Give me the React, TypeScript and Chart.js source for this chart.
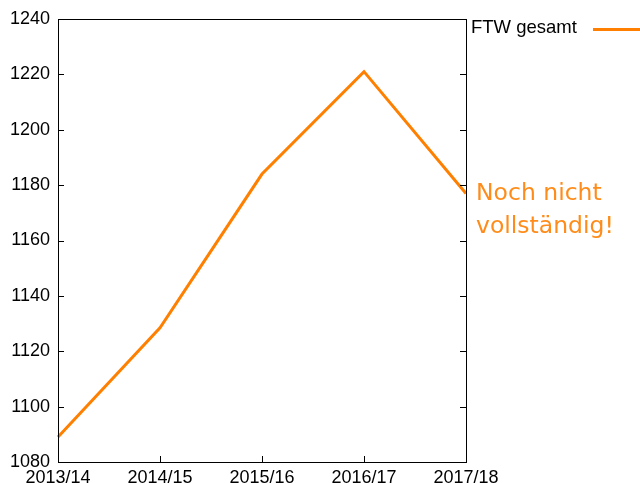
import React, { useEffect, useRef } from "react";
import { Chart, registerables } from "chart.js";

Chart.register(...registerables);

const categories = ["2013/14", "2014/15", "2015/16", "2016/17", "2017/18"];
const ftwGesamt = [1089, 1128.5, 1184, 1221, 1177];
const seriesLabel = "FTW gesamt";
const noteLines = ["Noch nicht", "vollständig!"];
const yMin = 1080;
const yMax = 1240;
const yStep = 20;

const ORANGE = "rgb(255,128,0)";
const FONT = "'Liberation Sans', Arial, sans-serif";

const framePlugin = {
  id: "frame",
  afterDraw(chart: any) {
    const { ctx, chartArea, scales } = chart;
    const { left, right, top, bottom } = chartArea;
    ctx.save();
    ctx.strokeStyle = "#000";
    ctx.lineWidth = 1;
    ctx.strokeRect(left + 0.5, top + 0.5, right - left, bottom - top);
    const y = scales.y;
    y.ticks.forEach((t: any) => {
      const py = Math.round(y.getPixelForValue(t.value)) + 0.5;
      ctx.beginPath();
      ctx.moveTo(left, py);
      ctx.lineTo(left + 6, py);
      ctx.moveTo(right, py);
      ctx.lineTo(right - 6, py);
      ctx.stroke();
    });
    const x = scales.x;
    categories.forEach((_, i) => {
      const px = Math.round(x.getPixelForValue(i)) + 0.5;
      ctx.beginPath();
      ctx.moveTo(px, bottom);
      ctx.lineTo(px, bottom - 6);
      ctx.stroke();
    });
    ctx.fillStyle = "#000";
    ctx.font = `18.5px ${FONT}`;
    ctx.textAlign = "left";
    ctx.textBaseline = "alphabetic";
    ctx.fillText(seriesLabel, 471, 33);
    ctx.strokeStyle = ORANGE;
    ctx.lineWidth = 3;
    ctx.beginPath();
    ctx.moveTo(593, 29.5);
    ctx.lineTo(640, 29.5);
    ctx.stroke();
    const lastIdx = ftwGesamt.length - 1;
    const ax = x.getPixelForValue(lastIdx) + 10;
    const ay = y.getPixelForValue(ftwGesamt[lastIdx]) + 7;
    ctx.fillStyle = "rgb(255,140,26)";
    ctx.font = `23.5px 'DejaVu Sans', sans-serif`;
    noteLines.forEach((l, i) => ctx.fillText(l, ax, ay + i * 33));
    ctx.restore();
  },
};

export default function App() {
  const ref = useRef<HTMLCanvasElement>(null);
  useEffect(() => {
    if (!ref.current) return;
    const chart = new Chart(ref.current, {
      type: "line",
      data: {
        labels: categories,
        datasets: [
          {
            label: seriesLabel,
            data: ftwGesamt,
            borderColor: ORANGE,
            backgroundColor: ORANGE,
            borderWidth: 3,
            pointRadius: 0,
            tension: 0,
            fill: false,
          },
        ],
      },
      options: {
        animation: false,
        responsive: false,
        maintainAspectRatio: false,
        layout: { padding: { left: 0, right: 174, top: 19, bottom: 0 } },
        plugins: { legend: { display: false }, tooltip: { enabled: false } },
        scales: {
          x: {
            type: "category",
            offset: false,
            grid: { display: false, drawTicks: false },
            border: { display: false },
            ticks: {
              color: "#000",
              font: { family: FONT, size: 18 },
              maxRotation: 0,
              autoSkip: false,
              padding: 5,
            },
            afterFit: (s: any) => {
              s.height = 21;
            },
          },
          y: {
            min: yMin,
            max: yMax,
            grid: { display: false, drawTicks: false },
            border: { display: false },
            ticks: {
              stepSize: yStep,
              color: "#000",
              font: { family: FONT, size: 18 },
              padding: 8,
              callback: (v: any) => String(v),
            },
            afterFit: (s: any) => {
              s.width = 58;
            },
          },
        },
      },
      plugins: [framePlugin],
    });
    return () => chart.destroy();
  }, []);
  return (
    <div style={{ position: "absolute", left: 0, top: 0, width: 640, height: 483 }}>
      <canvas ref={ref} width={640} height={483} />
    </div>
  );
}
